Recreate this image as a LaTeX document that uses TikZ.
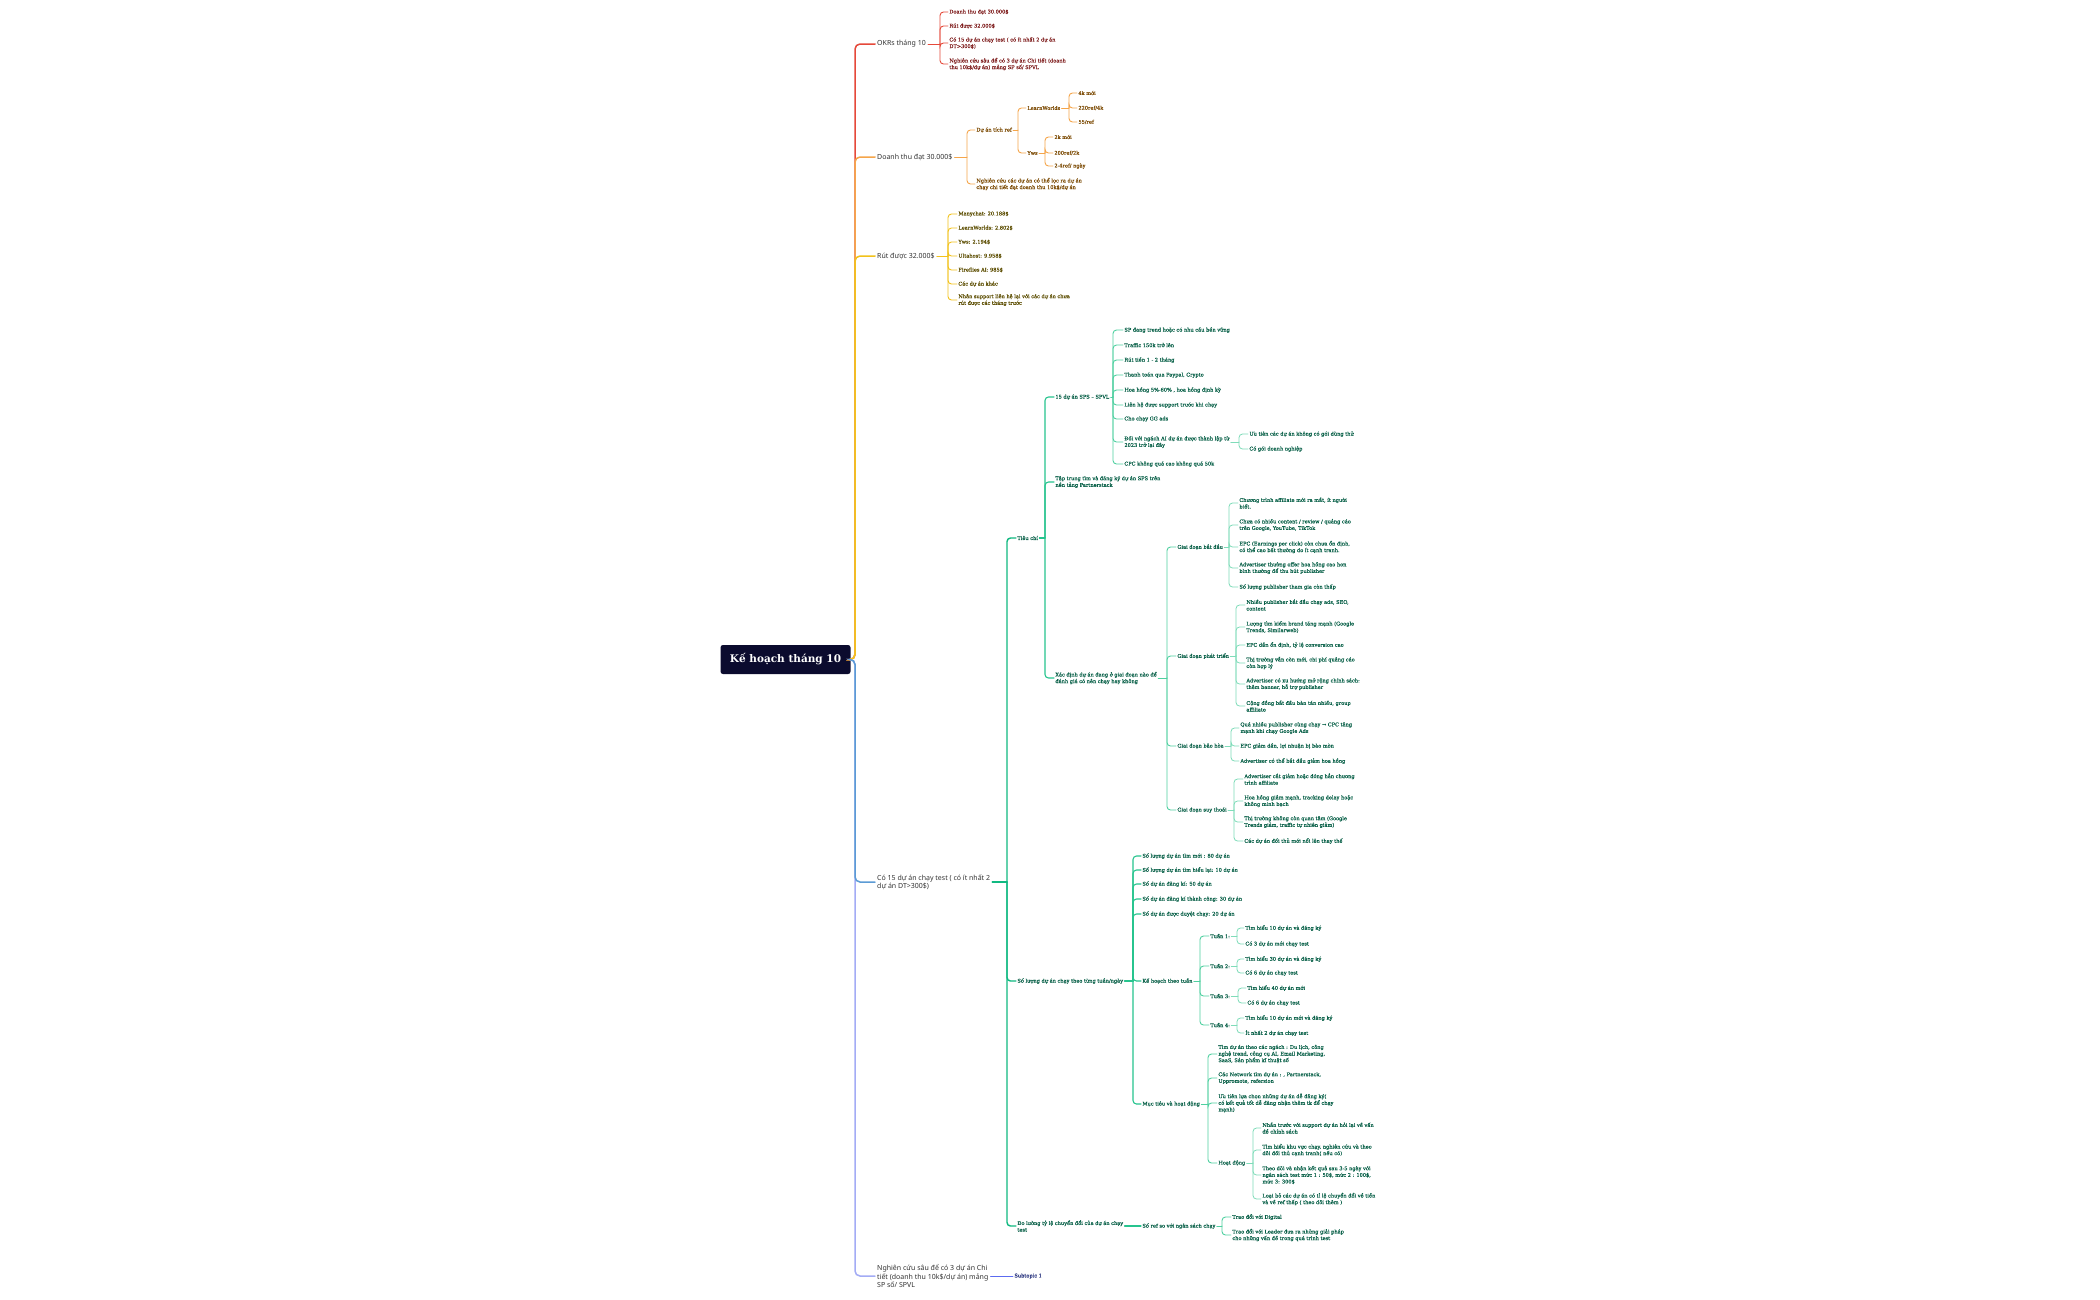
\documentclass[tikz,border=0pt]{standalone}
\usepackage{fontspec}
\setmainfont{DejaVu Serif}
\newfontfamily\lonefam{Noto Sans}
\newfontfamily\rootfam{DejaVu Serif}
\newfontfamily\leaffam[FakeBold=0.35]{DejaVu Serif}
\definecolor{cRoot}{HTML}{0B0B2E}
\definecolor{cLab}{HTML}{333333}
\definecolor{cRed}{HTML}{E5493A}
\definecolor{cOra}{HTML}{F5A54A}
\definecolor{cYel}{HTML}{F2C21B}
\definecolor{cBlu}{HTML}{5B9BD5}
\definecolor{cLav}{HTML}{A3ACF5}
\definecolor{cSub}{HTML}{5C6BF0}
\definecolor{gA}{HTML}{10B981}
\definecolor{gB}{HTML}{26C48E}
\definecolor{gC}{HTML}{4FD0A0}
\definecolor{gD}{HTML}{7FDCB9}
\definecolor{tRed}{HTML}{7F1D1D}
\definecolor{tOra}{HTML}{7C4A03}
\definecolor{tYel}{HTML}{5C4D00}
\definecolor{tGrn}{HTML}{065F46}
\definecolor{tSub}{HTML}{1E2A78}
\tikzset{
  rootbox/.style={fill=cRoot, text=white, rounded corners=2.5pt, minimum width=130pt, minimum height=29pt, inner sep=0pt, font=\rootfam\bfseries\fontsize{10.5}{12}\selectfont},
  lone/.style={anchor=west, inner sep=2pt, align=left, text=cLab, font=\lonefam\fontsize{7}{8.2}\selectfont},
  leaf/.style={anchor=west, inner sep=1.2pt, align=left, font=\leaffam\fontsize{5.05}{6.6}\selectfont},
  lfR/.style={leaf, text=tRed},
  lfO/.style={leaf, text=tOra},
  lfY/.style={leaf, text=tYel},
  lfG/.style={leaf, text=tGrn},
  lfB/.style={leaf, text=tSub},
  ln/.style={line cap=round, rounded corners=3.5pt},
  trunkln/.style={line cap=round, rounded corners=5pt, line width=1.5pt},
  lnR/.style={ln, draw=cRed, line width=0.9pt},
  lnO/.style={ln, draw=cOra, line width=0.9pt},
  lnY/.style={ln, draw=cYel, line width=0.9pt},
  lnA/.style={ln, draw=gA, line width=1.4pt},
  lnB/.style={ln, draw=gB, line width=1.1pt},
  lnC/.style={ln, draw=gC, line width=0.9pt},
  lnD/.style={ln, draw=gD, line width=0.8pt},
  lnS/.style={ln, draw=cSub, line width=0.9pt},
}
\begin{document}
\begin{tikzpicture}[x=1pt,y=-1pt]
\useasboundingbox (0,0) rectangle (2100,1299);
\fill[white] (0,0) rectangle (2100,1299);

% root and main branches
\node[rootbox] (root) at (785.5,659.5) {Kế hoạch tháng 10};
\coordinate (T) at (855,659.5);

\node[lone] (okr) at (875,44) {OKRs tháng 10};
\node[lone] (dt) at (875,157) {Doanh thu đạt 30.000\$};
\node[lone] (rut) at (875,256) {Rút được 32.000\$};
\node[lone] (c15) at (875,882) {Có 15 dự án chạy test ( có ít nhất 2\\dự án DT>300\$)};
\node[lone] (ncs) at (875,1276) {Nghiên cứu sâu để có 3 dự án Chi\\tiết (doanh thu 10k\$/dự án) mảng\\SP số/ SPVL};

\draw[trunkln, draw=cRed] (root.east) -- (T) |- (okr.west);
\draw[trunkln, draw=cOra] (root.east) -- (T) |- (dt.west);
\draw[trunkln, draw=cYel] (root.east) -- (T) |- (rut.west);
\draw[trunkln, draw=cLav] (root.east) -- (T) |- (ncs.west);
\draw[trunkln, draw=cBlu] (root.east) -- (T) |- (c15.west);

% ---------- OKRs
\coordinate (ob) at (940,44);
\node[lfR] (o1) at (948,12) {Doanh thu đạt 30.000\$};
\node[lfR] (o2) at (948,26) {Rút được 32.000\$};
\node[lfR] (o3) at (948,43) {Có 15 dự án chạy test ( có ít nhất 2 dự án\\DT>300\$)};
\node[lfR] (o4) at (948,64) {Nghiên cứu sâu để có 3 dự án Chi tiết (doanh\\thu 10k\$/dự án) mảng SP số/ SPVL};
\draw[lnR] (okr.east) -- (ob);
\foreach \n in {o1,o2,o3,o4} \draw[lnR] (ob) |- (\n.west);

% ---------- Doanh thu
\coordinate (db) at (967,157);
\node[lfO] (d1) at (975,130) {Dự án tích ref};
\node[lfO] (d2) at (975,184) {Nghiên cứu các dự án có thể lọc ra dự án\\chạy chi tiết đạt doanh thu 10k\$/dự án};
\draw[lnO] (dt.east) -- (db);
\foreach \n in {d1,d2} \draw[lnO] (db) |- (\n.west);
\coordinate (d1b) at (1018,130);
\node[lfO] (d11) at (1026,108) {LearnWorlds};
\node[lfO] (d12) at (1026,153) {Yws};
\draw[lnO] (d1.east) -- (d1b);
\foreach \n in {d11,d12} \draw[lnO] (d1b) |- (\n.west);
\coordinate (d11b) at (1069,108);
\node[lfO] (d111) at (1077,93) {4k mới};
\node[lfO] (d112) at (1077,108) {220ref/4k};
\node[lfO] (d113) at (1077,122) {55/ref};
\draw[lnO] (d11.east) -- (d11b);
\foreach \n in {d111,d112,d113} \draw[lnO] (d11b) |- (\n.west);
\coordinate (d12b) at (1045,153);
\node[lfO] (d121) at (1053,137) {2k mới};
\node[lfO] (d122) at (1053,153) {200ref/2k};
\node[lfO] (d123) at (1053,166) {2-4ref/ ngày};
\draw[lnO] (d12.east) -- (d12b);
\foreach \n in {d121,d122,d123} \draw[lnO] (d12b) |- (\n.west);

% ---------- Rut duoc
\coordinate (rb) at (948,256);
\node[lfY] (r1) at (957,214) {Manychat: 20.188\$};
\node[lfY] (r2) at (957,228) {LearnWorlds: 2.802\$};
\node[lfY] (r3) at (957,242) {Yws: 2.194\$};
\node[lfY] (r4) at (957,256) {Ultahost: 9.958\$};
\node[lfY] (r5) at (957,270) {Fireflies AI: 985\$};
\node[lfY] (r6) at (957,284) {Các dự án khác};
\node[lfY] (r7) at (957,300) {Nhân support liên hệ lại với các dự án chưa\\rút được các tháng trước};
\draw[lnY] (rut.east) -- (rb);
\foreach \n in {r1,r2,r3,r4,r5,r6,r7} \draw[lnY] (rb) |- (\n.west);

% ---------- Co 15 du an
\coordinate (cb) at (1007,882);
\node[lfG] (g1) at (1016,538) {Tiêu chí};
\node[lfG] (g2) at (1016,981) {Số lượng dự án chạy theo từng tuần/ngày};
\node[lfG] (g3) at (1016,1226) {Đo lường tỷ lệ chuyển đổi của dự án chạy\\test};
\draw[lnA] (c15.east) -- (cb);
\foreach \n in {g1,g2,g3} \draw[lnA] (cb) |- (\n.west);

% Tieu chi
\coordinate (g1b) at (1045,538);
\node[lfG] (g11) at (1054,397) {15 dự án SPS – SPVL};
\node[lfG] (g12) at (1054,482) {Tập trung tìm và đăng ký dự án SPS trên\\nền tảng Partnerstack};
\node[lfG] (g13) at (1054,678) {Xác định dự án đang ở giai đoạn nào để\\đánh giá có nên chạy hay không};
\draw[lnB] (g1.east) -- (g1b);
\foreach \n in {g11,g12,g13} \draw[lnB] (g1b) |- (\n.west);

\coordinate (g11b) at (1113,397);
\node[lfG] (a1) at (1123,330) {SP đang trend hoặc có nhu cầu bền vững};
\node[lfG] (a2) at (1123,345) {Traffic 150k trở lên};
\node[lfG] (a3) at (1123,360) {Rút tiền 1 - 2 tháng};
\node[lfG] (a4) at (1123,375) {Thanh toán qua Paypal, Crypto};
\node[lfG] (a5) at (1123,390) {Hoa hồng 5\%-60\% , hoa hồng định kỳ};
\node[lfG] (a6) at (1123,405) {Liên hệ được support trước khi chạy};
\node[lfG] (a7) at (1123,419) {Cho chạy GG ads};
\node[lfG] (a8) at (1123,442) {Đối với ngách AI dự án được thành lập từ\\2023 trở lại đây};
\node[lfG] (a9) at (1123,464) {CPC không quá cao không quá 50k};
\draw[lnC] (g11.east) -- (g11b);
\foreach \n in {a1,a2,a3,a4,a5,a6,a7,a8,a9} \draw[lnC] (g11b) |- (\n.west);
\coordinate (a8b) at (1239,442);
\node[lfG] (a81) at (1248,434) {Ưu tiên các dự án không có gói dùng thử};
\node[lfG] (a82) at (1248,449) {Có gói doanh nghiệp};
\draw[lnD] (a8.east) -- (a8b);
\foreach \n in {a81,a82} \draw[lnD] (a8b) |- (\n.west);

\coordinate (g13b) at (1167,678);
\node[lfG] (s1) at (1176,547) {Giai đoạn bắt đầu};
\node[lfG] (s2) at (1176,656) {Giai đoạn phát triển};
\node[lfG] (s3) at (1176,746) {Giai đoạn bão hòa};
\node[lfG] (s4) at (1176,810) {Giai đoạn suy thoái};
\draw[lnC] (g13.east) -- (g13b);
\foreach \n in {s1,s2,s3,s4} \draw[lnC] (g13b) |- (\n.west);

\coordinate (s1b) at (1229,547);
\node[lfG] (s11) at (1238,503) {Chương trình affiliate mới ra mắt, ít người\\biết.};
\node[lfG] (s12) at (1238,525) {Chưa có nhiều content / review / quảng cáo\\trên Google, YouTube, TikTok};
\node[lfG] (s13) at (1238,547) {EPC (Earnings per click) còn chưa ổn định,\\có thể cao bất thường do ít cạnh tranh.};
\node[lfG] (s14) at (1238,568) {Advertiser thường offer hoa hồng cao hơn\\bình thường để thu hút publisher};
\node[lfG] (s15) at (1238,587) {Số lượng publisher tham gia còn thấp};
\draw[lnD] (s1.east) -- (s1b);
\foreach \n in {s11,s12,s13,s14,s15} \draw[lnD] (s1b) |- (\n.west);

\coordinate (s2b) at (1236,656);
\node[lfG] (s21) at (1245,605) {Nhiều publisher bắt đầu chạy ads, SEO,\\content};
\node[lfG] (s22) at (1245,627) {Lượng tìm kiếm brand tăng mạnh (Google\\Trends, Similarweb)};
\node[lfG] (s23) at (1245,645) {EPC dần ổn định, tỷ lệ conversion cao};
\node[lfG] (s24) at (1245,663) {Thị trường vẫn còn mới, chi phí quảng cáo\\còn hợp lý};
\node[lfG] (s25) at (1245,684) {Advertiser có xu hướng mở rộng chính sách:\\thêm banner, hỗ trợ publisher};
\node[lfG] (s26) at (1245,706) {Cộng đồng bắt đầu bàn tán nhiều, group\\affiliate};
\draw[lnD] (s2.east) -- (s2b);
\foreach \n in {s21,s22,s23,s24,s25,s26} \draw[lnD] (s2b) |- (\n.west);

\coordinate (s3b) at (1231,746);
\node[lfG] (s31) at (1239,728) {Quá nhiều publisher cùng chạy → CPC tăng\\mạnh khi chạy Google Ads};
\node[lfG] (s32) at (1239,746) {EPC giảm dần, lợi nhuận bị bào mòn};
\node[lfG] (s33) at (1239,761) {Advertiser có thể bắt đầu giảm hoa hồng};
\draw[lnD] (s3.east) -- (s3b);
\foreach \n in {s31,s32,s33} \draw[lnD] (s3b) |- (\n.west);

\coordinate (s4b) at (1234,810);
\node[lfG] (s41) at (1243,779) {Advertiser cắt giảm hoặc đóng hẳn chương\\trình affiliate};
\node[lfG] (s42) at (1243,801) {Hoa hồng giảm mạnh, tracking delay hoặc\\không minh bạch};
\node[lfG] (s43) at (1243,822) {Thị trường không còn quan tâm (Google\\Trends giảm, traffic tự nhiên giảm)};
\node[lfG] (s44) at (1243,841) {Các dự án đối thủ mới nổi lên thay thế};
\draw[lnD] (s4.east) -- (s4b);
\foreach \n in {s41,s42,s43,s44} \draw[lnD] (s4b) |- (\n.west);

% So luong du an
\coordinate (g2b) at (1133,981);
\node[lfG] (m1) at (1141,856) {Số lượng dự án tìm mới : 80 dự án};
\node[lfG] (m2) at (1141,870) {Số lượng dự án tìm hiểu lại: 10 dự án};
\node[lfG] (m3) at (1141,884) {Số dự án đăng kí: 50 dự án};
\node[lfG] (m4) at (1141,899) {Số dự án đăng kí thành công: 30 dự án};
\node[lfG] (m5) at (1141,914) {Số dự án được duyệt chạy: 20 dự án};
\node[lfG] (m6) at (1141,981) {Kế hoạch theo tuần};
\node[lfG] (m7) at (1141,1104) {Mục tiêu và hoạt động};
\draw[lnB] (g2.east) -- (g2b);
\foreach \n in {m1,m2,m3,m4,m5,m6,m7} \draw[lnB] (g2b) |- (\n.west);

\coordinate (m6b) at (1200,981);
\node[lfG] (w1) at (1209,936) {Tuần 1:};
\node[lfG] (w2) at (1209,966) {Tuần 2:};
\node[lfG] (w3) at (1209,996) {Tuần 3:};
\node[lfG] (w4) at (1209,1025) {Tuần 4:};
\draw[lnC] (m6.east) -- (m6b);
\foreach \n in {w1,w2,w3,w4} \draw[lnC] (m6b) |- (\n.west);
\coordinate (w1b) at (1237,936);
\node[lfG] (w11) at (1244,928) {Tìm hiểu 10 dự án và đăng ký};
\node[lfG] (w12) at (1244,944) {Có 3 dự án mới chạy test};
\draw[lnD] (w1.east) -- (w1b);
\foreach \n in {w11,w12} \draw[lnD] (w1b) |- (\n.west);
\coordinate (w2b) at (1237,966);
\node[lfG] (w21) at (1244,959) {Tìm hiểu 30 dự án và đăng ký};
\node[lfG] (w22) at (1244,973) {Có 6 dự án chạy test};
\draw[lnD] (w2.east) -- (w2b);
\foreach \n in {w21,w22} \draw[lnD] (w2b) |- (\n.west);
\coordinate (w3b) at (1238,996);
\node[lfG] (w31) at (1246,988) {Tìm hiểu 40 dự án mới};
\node[lfG] (w32) at (1246,1003) {Có 6 dự án chạy test};
\draw[lnD] (w3.east) -- (w3b);
\foreach \n in {w31,w32} \draw[lnD] (w3b) |- (\n.west);
\coordinate (w4b) at (1237,1025);
\node[lfG] (w41) at (1244,1018) {Tìm hiểu 10 dự án mới và đăng ký};
\node[lfG] (w42) at (1244,1033) {Ít nhất 2 dự án chạy test};
\draw[lnD] (w4.east) -- (w4b);
\foreach \n in {w41,w42} \draw[lnD] (w4b) |- (\n.west);

\coordinate (m7b) at (1208,1104);
\node[lfG] (t1) at (1217,1054) {Tìm dự án theo các ngách : Du lịch, công\\nghệ trend, công cụ AI, Email Marketing,\\SaaS, Sản phẩm kĩ thuật số};
\node[lfG] (t2) at (1217,1078) {Các Network tìm dự án : , Partnerstack,\\Uppromote, refersion};
\node[lfG] (t3) at (1217,1103) {Ưu tiên lựa chọn những dự án dễ đăng ký(\\có kết quả tốt dễ đăng nhận thêm tk để chạy\\mạnh)};
\node[lfG] (t4) at (1217,1163) {Hoạt động};
\draw[lnC] (m7.east) -- (m7b);
\foreach \n in {t1,t2,t3,t4} \draw[lnC] (m7b) |- (\n.west);
\coordinate (t4b) at (1253,1163);
\node[lfG] (h1) at (1261,1128) {Nhắn trước với support dự án hỏi lại về vấn\\đề chính sách};
\node[lfG] (h2) at (1261,1150) {Tìm hiểu khu vực chạy, nghiên cứu và theo\\dõi đối thủ cạnh tranh( nếu có)};
\node[lfG] (h3) at (1261,1175) {Theo dõi và nhận kết quả sau 3-5 ngày với\\ngân sách test mức 1 : 50\$, mức 2 : 100\$,\\mức 3: 300\$};
\node[lfG] (h4) at (1261,1199) {Loại bỏ các dự án có tỉ lệ chuyển đổi về tiền\\và về ref thấp ( theo dõi thêm )};
\draw[lnD] (t4.east) -- (t4b);
\foreach \n in {h1,h2,h3,h4} \draw[lnD] (t4b) |- (\n.west);

% Do luong ty le
\node[lfG] (k1) at (1141,1226) {Số ref so với ngân sách chạy};
\draw[lnB] (g3.east) -- (k1.west);
\coordinate (k1b) at (1222,1226);
\node[lfG] (k11) at (1231,1217) {Trao đổi với Digital};
\node[lfG] (k12) at (1231,1235) {Trao đổi với Leader đưa ra những giải pháp\\cho những vấn đề trong quá trình test};
\draw[lnC] (k1.east) -- (k1b);
\foreach \n in {k11,k12} \draw[lnC] (k1b) |- (\n.west);

% ---------- Nghien cuu
\node[lfB] (sub) at (1013,1276) {Subtopic 1};
\draw[lnS] (ncs.east) -- (sub.west);
\end{tikzpicture}
\end{document}
